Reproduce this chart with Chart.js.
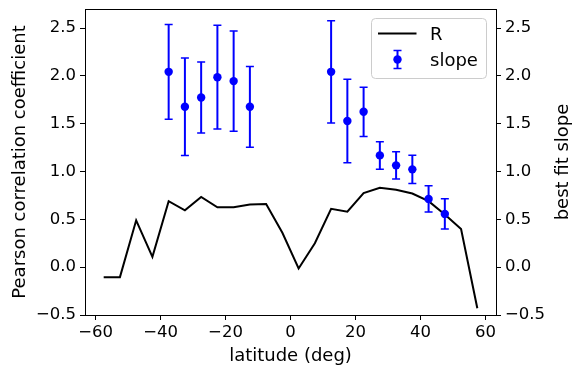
<!DOCTYPE html>
<html><head><meta charset="utf-8">
<script src="https://cdn.jsdelivr.net/npm/chart.js@4"></script>
<style>html,body{margin:0;padding:0;background:#fff}canvas{display:block}</style>
</head><body>
<canvas id="c" width="581" height="374"></canvas>
<script>
// ---- data ----
const latitudes = [-57.5,-52.5,-47.5,-42.5,-37.5,-32.5,-27.5,-22.5,-17.5,-12.5,-7.5,-2.5,2.5,7.5,12.5,17.5,22.5,27.5,32.5,37.5,42.5,47.5,52.5,57.5];
const rValues = [-0.104,-0.104,0.49,0.108,0.69,0.595,0.735,0.627,0.628,0.655,0.66,0.36,-0.014,0.25,0.61,0.58,0.775,0.83,0.81,0.77,0.69,0.55,0.40,-0.43];
const slopeLatitudes = [-37.5,-32.5,-27.5,-22.5,-17.5,-12.5,12.5,17.5,22.5,27.5,32.5,37.5,42.5,47.5];
const slopeValues = [2.043,1.677,1.775,1.987,1.946,1.677,2.043,1.528,1.625,1.169,1.065,1.023,0.714,0.557];
const slopeErrors = [0.495,0.51,0.372,0.543,0.525,0.423,0.535,0.437,0.258,0.144,0.143,0.148,0.138,0.158];
const xTickValues = [-60,-40,-20,0,20,40,60];
const yTickValues = [-0.5,0.0,0.5,1.0,1.5,2.0,2.5];
const seriesLabels = ['R','slope'];
const xTitle = 'latitude (deg)';
const yLeftTitle = 'Pearson correlation coefficient';
const yRightTitle = 'best fit slope';

const FONT = 'DejaVu Sans';
const BLUE = '#0000ff';
const fmt = (v, d) => { const s = Math.abs(v).toFixed(d); return (v < 0 ? '\u2212' : '') + s; };

const errorBarPlugin = {
  id: 'errorBars',
  beforeDatasetDraw(chart, args) {
    if (args.index !== 1) return;
    const meta = chart.getDatasetMeta(1);
    const ys = chart.scales.y2;
    const ctx = chart.ctx;
    ctx.save();
    ctx.strokeStyle = BLUE;
    meta.data.forEach((pt, i) => {
      const x = pt.x;
      const yHi = ys.getPixelForValue(slopeValues[i] + slopeErrors[i]);
      const yLo = ys.getPixelForValue(slopeValues[i] - slopeErrors[i]);
      ctx.lineWidth = 2;
      ctx.beginPath(); ctx.moveTo(x, yHi); ctx.lineTo(x, yLo); ctx.stroke();
      ctx.lineWidth = 1.5;
      ctx.beginPath();
      ctx.moveTo(x - 4, yHi); ctx.lineTo(x + 4, yHi);
      ctx.moveTo(x - 4, yLo); ctx.lineTo(x + 4, yLo);
      ctx.stroke();
    });
    ctx.restore();
  }
};

const decorPlugin = {
  id: 'decor',
  afterDraw(chart) {
    const ctx = chart.ctx;
    const a = chart.chartArea;
    ctx.save();
    // top spine
    ctx.strokeStyle = '#000'; ctx.lineWidth = 1;
    ctx.beginPath(); ctx.moveTo(a.left, Math.round(a.top) + 0.5); ctx.lineTo(a.right, Math.round(a.top) + 0.5); ctx.stroke();
    // right axis title
    ctx.fillStyle = '#000';
    ctx.font = '18px "' + FONT + '"';
    ctx.translate(568, (a.top + a.bottom) / 2);
    ctx.rotate(-Math.PI / 2);
    ctx.textAlign = 'center'; ctx.textBaseline = 'alphabetic';
    ctx.fillText(yRightTitle, 0, 0);
    ctx.restore();

    // legend
    ctx.save();
    const lx = a.right - 124.5, ly = a.top + 9.5, lw = 115, lh = 60;
    ctx.beginPath();
    ctx.roundRect(lx, ly, lw, lh, 4);
    ctx.fillStyle = 'rgba(255,255,255,0.8)'; ctx.fill();
    ctx.strokeStyle = '#cccccc'; ctx.lineWidth = 1; ctx.stroke();
    // R entry
    ctx.strokeStyle = '#000'; ctx.lineWidth = 2;
    ctx.beginPath(); ctx.moveTo(lx + 6.5, ly + 15); ctx.lineTo(lx + 45, ly + 15); ctx.stroke();
    // slope entry
    const mx = lx + 26, my = ly + 41;
    ctx.strokeStyle = BLUE; ctx.lineWidth = 2;
    ctx.beginPath(); ctx.moveTo(mx, my - 9); ctx.lineTo(mx, my + 9); ctx.stroke();
    ctx.lineWidth = 1.5;
    ctx.beginPath(); ctx.moveTo(mx - 4, my - 9); ctx.lineTo(mx + 4, my - 9); ctx.moveTo(mx - 4, my + 9); ctx.lineTo(mx + 4, my + 9); ctx.stroke();
    ctx.fillStyle = BLUE;
    ctx.beginPath(); ctx.arc(mx, my, 4.2, 0, Math.PI * 2); ctx.fill();
    // texts
    ctx.fillStyle = '#000';
    ctx.font = '18px "' + FONT + '"';
    ctx.textAlign = 'left'; ctx.textBaseline = 'alphabetic';
    ctx.fillText(seriesLabels[0], lx + 58.5, ly + 21.5);
    ctx.fillText(seriesLabels[1], lx + 58.5, ly + 47.5);
    ctx.restore();
  }
};

const tickFont = { family: FONT, size: 16.5 };
const titleFont = { family: FONT, size: 18 };
const gridCfg = { drawOnChartArea: false, drawTicks: true, tickLength: 5, color: '#000', tickWidth: 1 };
const borderCfg = { display: true, color: '#000', width: 1 };
const yTicksFn = s => { s.ticks = yTickValues.map(v => ({ value: v })); };
const yFit = s => { s.width = 85; s.paddingTop = 0; s.paddingBottom = 0; };

Chart.defaults.font.family = FONT;
Chart.defaults.color = '#000';

new Chart(document.getElementById('c'), {
  type: 'line',
  data: {
    datasets: [
      {
        label: seriesLabels[0],
        data: latitudes.map((x, i) => ({ x: x, y: rValues[i] })),
        borderColor: '#000', borderWidth: 2, pointRadius: 0, fill: false,
        tension: 0, yAxisID: 'y', order: 1
      },
      {
        label: seriesLabels[1],
        data: slopeLatitudes.map((x, i) => ({ x: x, y: slopeValues[i] })),
        showLine: false, pointRadius: 4.2, pointBackgroundColor: BLUE, pointBorderColor: BLUE,
        pointBorderWidth: 0, backgroundColor: BLUE, borderColor: BLUE, yAxisID: 'y2', order: 0
      }
    ]
  },
  options: {
    responsive: false, animation: false, devicePixelRatio: 1,
    layout: { padding: { top: 9, left: 0, right: 0, bottom: 0 } },
    plugins: { legend: { display: false }, tooltip: { enabled: false } },
    scales: {
      x: {
        type: 'linear', min: -63.25, max: 63.25,
        afterBuildTicks: s => { s.ticks = xTickValues.map(v => ({ value: v })); },
        afterFit: s => { s.height = 59; s.paddingLeft = 0; s.paddingRight = 0; },
        grid: gridCfg, border: borderCfg,
        ticks: { font: tickFont, color: '#000', padding: 3, maxRotation: 0, autoSkip: false, callback: v => fmt(v, 0) },
        title: { display: true, text: xTitle, font: titleFont, color: '#000', padding: { top: 0, bottom: 7 } }
      },
      y: {
        type: 'linear', position: 'left', min: -0.5, max: 2.7,
        afterBuildTicks: yTicksFn,
        afterFit: yFit,
        grid: gridCfg, border: borderCfg,
        ticks: { font: tickFont, color: '#000', padding: 4, autoSkip: false, callback: v => fmt(v, 1) },
        title: { display: true, text: yLeftTitle, font: titleFont, color: '#000', padding: { top: 10, bottom: 0 } }
      },
      y2: {
        type: 'linear', position: 'right', min: -0.5, max: 2.7,
        afterBuildTicks: yTicksFn,
        afterFit: yFit,
        grid: gridCfg, border: borderCfg,
        ticks: { font: tickFont, color: '#000', padding: 4, autoSkip: false, callback: v => fmt(v, 1) },
        title: { display: false }
      }
    }
  },
  plugins: [errorBarPlugin, decorPlugin]
});
</script>
</body></html>
